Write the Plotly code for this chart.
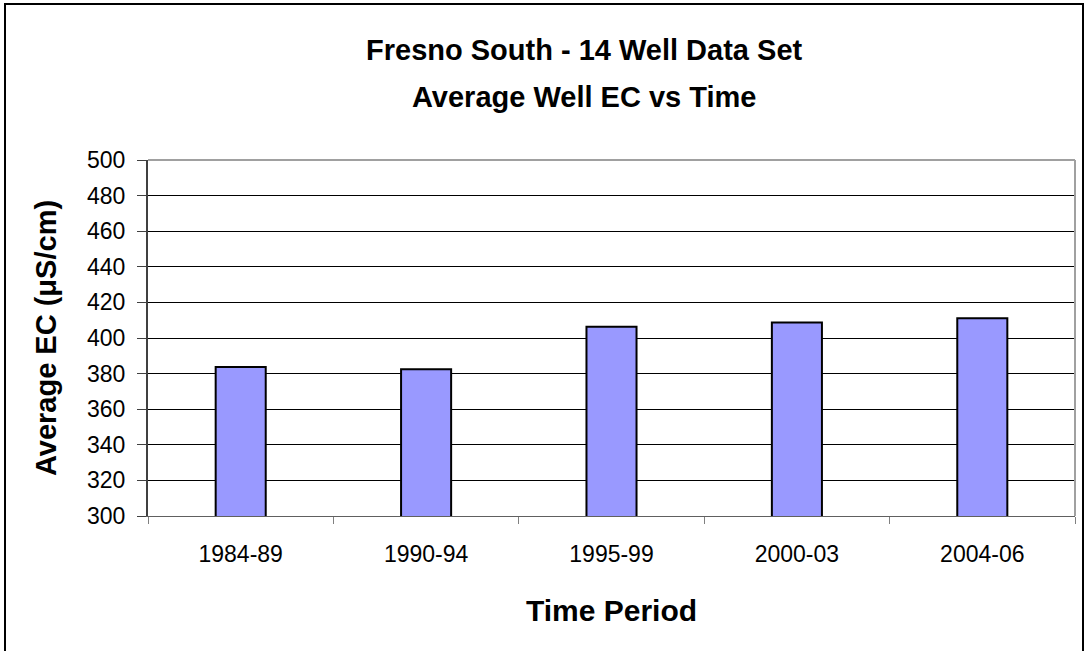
import plotly.graph_objects as go

periods = ["1984-89", "1990-94", "1995-99", "2000-03", "2004-06"]
avg_ec = [383.7, 382.4, 406.3, 408.7, 411.1]
y_ticks = list(range(300, 501, 20))

W, H = 1087, 651
L, R, T, B = 148, 12, 160, 135
pw, ph = W - L - R, H - T - B

def px(x):
    return (x - L) / pw

def py(y):
    return (H - B - y) / ph

FONT = "Liberation Sans, Arial, sans-serif"

fig = go.Figure()
fig.add_trace(go.Bar(
    x=periods, y=avg_ec,
    marker=dict(color="#9999FF", line=dict(color="black", width=2)),
    width=0.27,
))

fig.update_layout(
    width=W, height=H,
    margin=dict(l=L, r=R, t=T, b=B),
    paper_bgcolor="white", plot_bgcolor="white",
    showlegend=False,
    font=dict(family=FONT, color="black"),
    xaxis=dict(
        type="category",
        showline=True, linecolor="#606060", linewidth=1, mirror=False,
        ticks="outside", ticklen=7, tickcolor="#808080", tickson="boundaries",
        tickfont=dict(size=23),
        ticklabelstandoff=17,
        showgrid=False,
        title=dict(text="<b>Time Period</b>", font=dict(size=30), standoff=34),
    ),
    yaxis=dict(
        range=[300, 500], tickvals=y_ticks,
        showline=True, linecolor="#404040", linewidth=2, mirror=False,
        ticks="outside", ticklen=9, tickcolor="#404040",
        tickfont=dict(size=23),
        ticklabelstandoff=7,
        showgrid=True, gridcolor="black", gridwidth=1,
        zeroline=False,
        title=dict(text="<b>Average EC (μS/cm)</b>", font=dict(size=29), standoff=22),
    ),
    annotations=[
        dict(text="<b>Fresno South - 14 Well Data Set</b>", xref="paper", yref="paper",
             x=px(584), y=py(50), xanchor="center", yanchor="middle",
             showarrow=False, font=dict(size=29)),
        dict(text="<b>Average Well EC vs Time</b>", xref="paper", yref="paper",
             x=px(584), y=py(97), xanchor="center", yanchor="middle",
             showarrow=False, font=dict(size=29)),
    ],
    shapes=[
        dict(type="rect", xref="paper", yref="paper",
             x0=px(5), x1=px(1083), y0=py(680), y1=py(4),
             line=dict(color="black", width=2), fillcolor="rgba(0,0,0,0)", layer="below"),
        dict(type="line", xref="paper", yref="paper", x0=0, x1=1, y0=1, y1=1,
             line=dict(color="#a0a0a0", width=2)),
        dict(type="line", xref="paper", yref="paper", x0=1, x1=1, y0=0, y1=1,
             line=dict(color="#a0a0a0", width=2)),
    ],
)

fig.write_html("out.html", config={"displayModeBar": False},
               post_script="document.body.style.margin='0';")
